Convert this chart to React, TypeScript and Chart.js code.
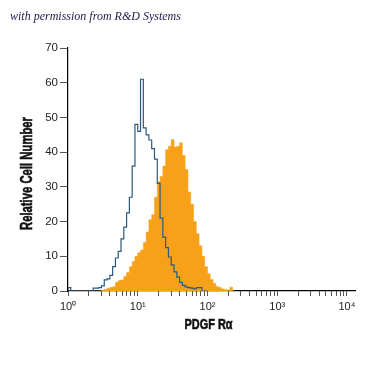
import React, { useEffect, useRef } from 'react';
import { Chart, registerables } from 'chart.js';

Chart.register(...registerables);

// Histogram channels: each bin spans binWidth decades, starting at 10^0
const binWidth = 0.04;
const isotypeCounts = [
  1, 0, 0, 0, 0, 0, 0, 0, 0, 0.8,
  0.8, 1, 1.5, 3.2, 3.5, 4.5, 7, 9.5, 11.4, 15,
  18.4, 22.5, 27, 36, 48, 46, 61, 47, 45, 43.5,
  41, 38, 31, 21, 15.5, 12.5, 9.8, 7.5, 5.5, 4,
  2.5, 1.6, 1.2, 1, 0.8, 0.6, 1, 1, 0, 0,
];
const pdgfCounts = [
  0, 0, 0, 0, 0, 0, 0, 0, 0, 0,
  0, 0, 0.3, 0.5, 0.8, 1, 1.2, 2.5, 3, 3.2,
  4.2, 5.3, 7, 8.5, 10, 11, 11.8, 14, 17, 20.5,
  22, 27, 31.5, 33, 36, 40.7, 41.7, 43.6, 41.5, 41.7,
  42.7, 39, 35, 28.5, 25, 20, 16.5, 13, 10, 7,
  5, 3.3, 2.2, 1.3, 1, 0.6, 0.4, 0.2, 1.1, 0,
];
const decadeLabels = ['10\u2070', '10\u00B9', '10\u00B2', '10\u00B3', '10\u2074'];
const minorMultipliers = [2, 3, 4, 5, 6, 7, 8, 9];
const yMax = 70;
const yStep = 10;
const yTitle = 'Relative Cell Number';
const xTitle = 'PDGF R\u03B1';
const caption = 'with permission from R&D Systems';

function toSteps(counts: number[]) {
  const pts: { x: number; y: number }[] = [{ x: 0, y: 0 }];
  counts.forEach((c, i) => pts.push({ x: i * binWidth, y: c }));
  pts.push({ x: counts.length * binWidth, y: 0 });
  return pts;
}

const sans = '"Liberation Sans", Arial, sans-serif';

// Draws condensed bold axis titles (squeezed horizontally to the reference's narrow face)
const condensedTitles = {
  id: 'condensedTitles',
  afterDraw(chart: any) {
    const { ctx, chartArea } = chart;
    const draw = (text: string, cx: number, cy: number, rot: number, targetW: number, size: number) => {
      ctx.save();
      ctx.font = `bold ${size}px ${sans}`;
      const w = ctx.measureText(text).width;
      ctx.translate(cx, cy);
      ctx.rotate(rot);
      ctx.scale(Math.min(1, targetW / w), 1);
      ctx.textAlign = 'center';
      ctx.textBaseline = 'middle';
      ctx.fillStyle = '#111';
      ctx.strokeStyle = '#111';
      ctx.lineWidth = 0.6;
      ctx.fillText(text, 0, 0);
      ctx.strokeText(text, 0, 0);
      ctx.restore();
    };
    draw(yTitle, 27.5, (chartArea.top + chartArea.bottom) / 2 + 4, -Math.PI / 2, 113, 17);
    draw(xTitle, (chartArea.left + chartArea.right) / 2 - 3, 325, 0, 48, 14.5);
  },
};

export default function App() {
  const ref = useRef<HTMLCanvasElement | null>(null);

  useEffect(() => {
    if (!ref.current) return;
    const chart = new Chart(ref.current, {
      type: 'line',
      data: {
        datasets: [
          {
            label: 'Isotype control',
            data: toSteps(isotypeCounts),
            stepped: 'before',
            borderColor: '#2b5a80',
            borderWidth: 1.2,
            pointRadius: 0,
            fill: false,
            order: 0,
          },
          {
            label: 'PDGF Ra',
            data: toSteps(pdgfCounts),
            stepped: 'before',
            borderColor: '#f7a11a',
            backgroundColor: '#f7a11a',
            borderWidth: 0.5,
            pointRadius: 0,
            fill: 'origin',
            order: 1,
          },
        ],
      },
      options: {
        responsive: false,
        animation: false,
        events: [],
        layout: { padding: { top: 48, right: 20, left: 0, bottom: 0 } },
        plugins: { legend: { display: false }, tooltip: { enabled: false } },
        scales: {
          x: {
            type: 'linear',
            min: 0,
            max: 4.115,
            afterFit: (s: any) => { s.height = 84; },
            afterBuildTicks: (s: any) => {
              const t: { value: number }[] = [];
              for (let n = 0; n < decadeLabels.length; n++) {
                t.push({ value: n });
                if (n < decadeLabels.length - 1) {
                  minorMultipliers.forEach((k) => t.push({ value: n + Math.log10(k) }));
                }
              }
              s.ticks = t;
            },
            ticks: {
              autoSkip: false,
              maxRotation: 0,
              padding: 4,
              color: '#222',
              font: { family: sans, size: 11 },
              callback: (v: any) => {
                const r = Math.round(Number(v));
                return Math.abs(Number(v) - r) < 1e-6 ? decadeLabels[r] : '';
              },
            },
            grid: { drawOnChartArea: false, tickLength: 5, color: '#555', lineWidth: 1 },
            border: { display: true, color: '#000', width: 1.2 },
          },
          y: {
            min: 0,
            max: yMax,
            afterFit: (s: any) => { s.width = 68; },
            ticks: {
              stepSize: yStep,
              padding: 2,
              color: '#222',
              font: { family: sans, size: 11.5 },
            },
            grid: { drawOnChartArea: false, tickLength: 8, color: '#555', lineWidth: 1 },
            border: { display: true, color: '#000', width: 1.2 },
          },
        },
      },
      plugins: [condensedTitles],
    });
    return () => chart.destroy();
  }, []);

  return (
    <div style={{ position: 'fixed', left: 0, top: 0, width: 375, height: 375, background: '#fff' }}>
      <div
        style={{
          position: 'absolute',
          left: 10,
          top: 9,
          fontFamily: '"Liberation Serif", "DejaVu Serif", serif',
          fontStyle: 'italic',
          fontSize: 12,
          color: '#1c1c4a',
          whiteSpace: 'nowrap',
        }}
      >
        {caption}
      </div>
      <canvas ref={ref} width={375} height={375} style={{ display: 'block' }} />
    </div>
  );
}
